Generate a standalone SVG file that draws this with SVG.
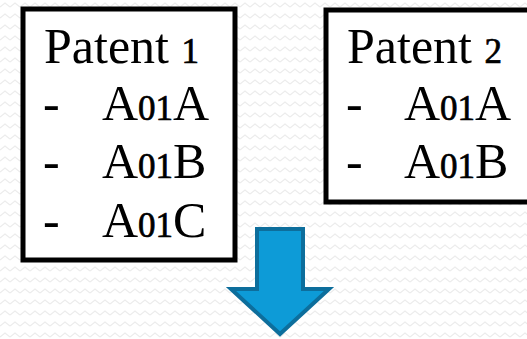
<svg xmlns="http://www.w3.org/2000/svg" width="527" height="339" viewBox="0 0 527 339">
  <defs>
    <pattern id="zig" width="10" height="11" patternUnits="userSpaceOnUse">
      <path d="M0,7 L5,3 L10,7" fill="none" stroke="#ececec" stroke-width="1.3"/>
    </pattern>
    <style>
      .box { fill: #ffffff; stroke: #000000; stroke-width: 5; }
      .t { font-family: "Liberation Serif", "DejaVu Serif", serif; font-size: 50px; fill: #000000; }
      .d { font-size: 35px; stroke: #000000; stroke-width: 0.7; }
      .arrow { fill: #0d9bd7; stroke: #0d6e9c; stroke-width: 4; stroke-linejoin: miter; }
    </style>
  </defs>
  <rect x="0" y="0" width="527" height="339" fill="#ffffff"/>
  <rect x="0" y="0" width="527" height="339" fill="url(#zig)"/>

  <g id="patent1">
    <rect class="box" x="23" y="9" width="212" height="251"/>
    <text class="t" x="44" y="63">Patent <tspan class="d">1</tspan></text>
    <text class="t" x="43" y="120">-</text>
    <text class="t" x="102" y="120">A<tspan class="d">01</tspan>A</text>
    <text class="t" x="43" y="178">-</text>
    <text class="t" x="102" y="178">A<tspan class="d">01</tspan>B</text>
    <text class="t" x="43" y="237">-</text>
    <text class="t" x="102" y="237">A<tspan class="d">01</tspan>C</text>
  </g>

  <g id="patent2">
    <rect class="box" x="326" y="10" width="220" height="192"/>
    <text class="t" x="347" y="63">Patent <tspan class="d">2</tspan></text>
    <text class="t" x="346" y="120">-</text>
    <text class="t" x="404" y="120">A<tspan class="d">01</tspan>A</text>
    <text class="t" x="346" y="178">-</text>
    <text class="t" x="404" y="178">A<tspan class="d">01</tspan>B</text>
  </g>

  <g id="connectors">
    <polygon class="arrow" points="257,229 303,229 303,289 329,289 280,334 231,289 257,289"/>
  </g>
</svg>
